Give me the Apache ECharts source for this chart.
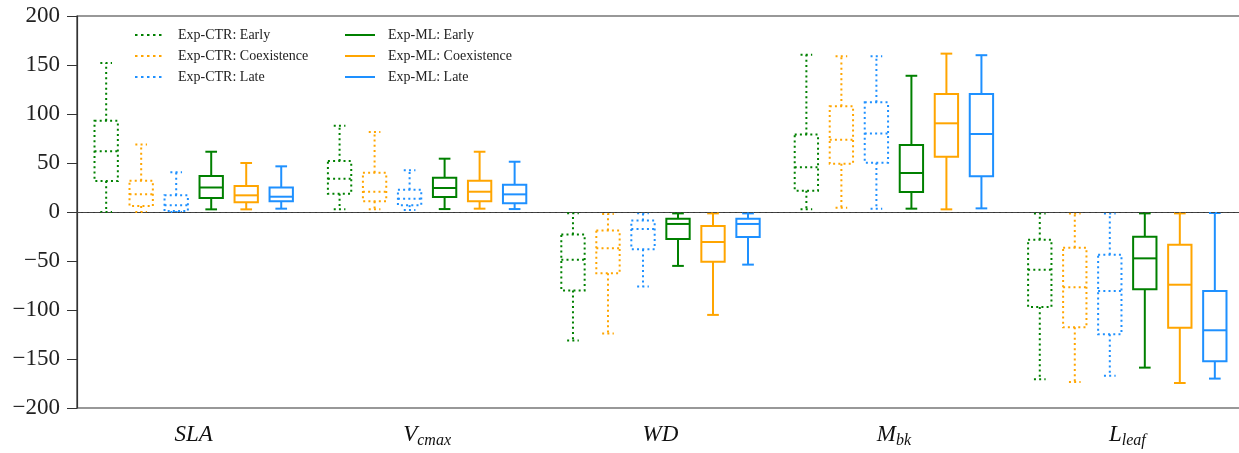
<!DOCTYPE html>
<html>
<head>
<meta charset="utf-8">
<script src="https://cdn.jsdelivr.net/npm/echarts@6/dist/echarts.min.js"></script>
<style>
  html, body { margin: 0; padding: 0; background: #fff; }
  #chart { width: 1239px; height: 453px; }
</style>
</head>
<body>
<div id="chart"></div>
<script>
// Trait categories on the x axis
const categories = ['SLA', 'Vcmax', 'WD', 'Mbk', 'Lleaf'];

// Box statistics per trait: [lower whisker, Q1, median, Q3, upper whisker]
const ctrEarly = [
  [0, 31.6, 62, 93, 152],
  [2.7, 18.7, 34, 52, 88],
  [-131, -80, -48.6, -23, -1.4],
  [2.7, 21.8, 45.6, 79, 160.5],
  [-170.7, -97, -59, -28.2, -1.5]
];
const ctrCoexistence = [
  [0, 6, 18, 32, 69],
  [2.7, 11, 20.7, 40, 81.6],
  [-124, -62.6, -37, -19, -2],
  [4.4, 49.3, 73.8, 108, 159],
  [-173.5, -117.7, -76.9, -36.4, -1.5]
];
const ctrLate = [
  [0, 1, 7, 17, 40.5],
  [2, 7, 13.6, 22.8, 42.5],
  [-76, -38, -17.3, -8.8, -1.4],
  [3.4, 50.3, 80, 112, 159],
  [-167, -124.8, -80.6, -43.5, -1.5]
];
const mlEarly = [
  [2.7, 14.3, 25, 36.7, 61.5],
  [3, 15.3, 24.5, 35, 54.4],
  [-55, -27.6, -12.2, -6.8, -1.4],
  [3.4, 20.4, 39.8, 68.4, 139],
  [-158.8, -78.9, -47.3, -25.2, -1.4]
];
const mlCoexistence = [
  [2.7, 10, 17, 26.5, 50],
  [3.4, 11, 20.7, 32, 61.5],
  [-105, -50.7, -30.6, -14.3, -1.4],
  [2.7, 56.5, 90.5, 120.4, 161.6],
  [-174.5, -118, -74.2, -33.3, -1.4]
];
const mlLate = [
  [3.4, 11, 15.6, 25, 46.6],
  [3, 9, 18, 27.9, 51.3],
  [-53.7, -25.5, -12.2, -6.8, -1.4],
  [3.7, 36.4, 79.6, 120.4, 160],
  [-170, -152.4, -120.7, -80.6, -1]
];

const seriesNames = [
  'Exp-CTR: Early', 'Exp-CTR: Coexistence', 'Exp-CTR: Late',
  'Exp-ML: Early', 'Exp-ML: Coexistence', 'Exp-ML: Late'
];
const yTicks = [-200, -150, -100, -50, 0, 50, 100, 150, 200];

const GREEN = '#008000', ORANGE = '#FFA500', BLUE = '#1E90FF';
const FONT = 'Liberation Serif';
const DOT = [2, 3.2];

const groups = [
  { name: seriesNames[0], stats: ctrEarly, color: GREEN, dotted: true, offset: -0.375 },
  { name: seriesNames[1], stats: ctrCoexistence, color: ORANGE, dotted: true, offset: -0.225 },
  { name: seriesNames[2], stats: ctrLate, color: BLUE, dotted: true, offset: -0.075 },
  { name: seriesNames[3], stats: mlEarly, color: GREEN, dotted: false, offset: 0.075 },
  { name: seriesNames[4], stats: mlCoexistence, color: ORANGE, dotted: false, offset: 0.225 },
  { name: seriesNames[5], stats: mlLate, color: BLUE, dotted: false, offset: 0.375 }
];

const BOX_W = 0.1; // fraction of the category band

function makeRender(g) {
  return function (params, api) {
    const idx = api.value(0);
    const band = api.size([1, 0])[0];
    const cx = api.coord([idx, 0])[0] + g.offset * band;
    const hw = BOX_W * band / 2;
    const cw = hw / 2;
    const y = v => api.coord([idx, v])[1];
    const low = y(api.value(1)), q1 = y(api.value(2)), med = y(api.value(3)),
          q3 = y(api.value(4)), high = y(api.value(5));
    const style = {
      stroke: g.color, fill: null, lineWidth: 2,
      lineDash: g.dotted ? DOT : null, lineCap: 'butt'
    };
    const line = (x1, y1, x2, y2) => ({ type: 'line', shape: { x1, y1, x2, y2 }, style });
    return {
      type: 'group',
      children: [
        line(cx, q1, cx, low),
        line(cx, q3, cx, high),
        line(cx - cw, low, cx + cw, low),
        line(cx - cw, high, cx + cw, high),
        { type: 'rect', shape: { x: cx - hw, y: q3, width: 2 * hw, height: q1 - q3 }, style },
        line(cx - hw, med, cx + hw, med)
      ]
    };
  };
}

const labelRich = {
  m: { fontFamily: FONT, fontStyle: 'italic', fontSize: 23, lineHeight: 26, verticalAlign: 'bottom',
       padding: [0, 0, 3, 0], color: '#111' },
  s: { fontFamily: FONT, fontStyle: 'italic', fontSize: 16, lineHeight: 16, verticalAlign: 'bottom', color: '#111' }
};
const labelText = {
  SLA: '{m|SLA}', Vcmax: '{m|V}{s|cmax}', WD: '{m|WD}', Mbk: '{m|M}{s|bk}', Lleaf: '{m|L}{s|leaf}'
};

const series = [];
// Line entries that supply the legend keys
groups.forEach(g => {
  series.push({
    name: g.name, type: 'line', data: [], symbol: 'none', showSymbol: false,
    lineStyle: { color: g.color, width: 2.5, type: g.dotted ? [2.5, 3.5] : 'solid' },
    itemStyle: { color: g.color }
  });
});
groups.forEach((g, k) => {
  const s = {
    name: g.name, type: 'custom',
    renderItem: makeRender(g),
    encode: { x: 0, y: [1, 2, 3, 4, 5] },
    data: g.stats.map((st, i) => [i].concat(st)),
    itemStyle: { color: g.color },
    z: 3
  };
  if (k === 0) {
    s.markLine = {
      silent: true, symbol: 'none', label: { show: false },
      lineStyle: { color: '#444', width: 0.9, type: [4, 2] },
      data: [{ yAxis: 0 }]
    };
  }
  series.push(s);
});

const legendBase = {
  orient: 'vertical', top: 28, padding: 0, itemGap: 7,
  itemWidth: 30, itemHeight: 14, selectedMode: false,
  itemStyle: { opacity: 0 },
  textStyle: { fontFamily: FONT, fontSize: 14, color: '#222', padding: [0, 0, 0, 8] }
};

const chart = echarts.init(document.getElementById('chart'), null, { renderer: 'canvas' });
chart.setOption({
  animation: false,
  backgroundColor: '#fff',
  grid: {
    left: 77, width: 1167, top: 16, bottom: 45,
    containLabel: false, outerBoundsMode: 'none',
    show: true, borderColor: '#333', borderWidth: 1.2
  },
  legend: [
    Object.assign({}, legendBase, { left: 134, data: seriesNames.slice(0, 3) }),
    Object.assign({}, legendBase, { left: 344, data: seriesNames.slice(3) })
  ],
  xAxis: {
    type: 'category', data: categories, boundaryGap: true,
    axisLine: { lineStyle: { color: '#333', width: 1.2 } },
    axisTick: { alignWithLabel: true, length: 10, lineStyle: { color: '#333' } },
    axisLabel: {
      margin: 15, verticalAlign: 'top',
      formatter: v => labelText[v], rich: labelRich
    },
    splitLine: { show: false }
  },
  yAxis: {
    type: 'value', min: yTicks[0], max: yTicks[yTicks.length - 1], interval: 50,
    axisLine: { show: true, lineStyle: { color: '#333', width: 1.2 } },
    axisTick: { show: true, length: 10, lineStyle: { color: '#333' } },
    axisLabel: {
      margin: 17, fontFamily: FONT, fontSize: 23, color: '#222',
      formatter: v => (v < 0 ? '\u2212' + Math.abs(v) : String(v))
    },
    splitLine: { show: false }
  },
  series: series
});
</script>
</body>
</html>
